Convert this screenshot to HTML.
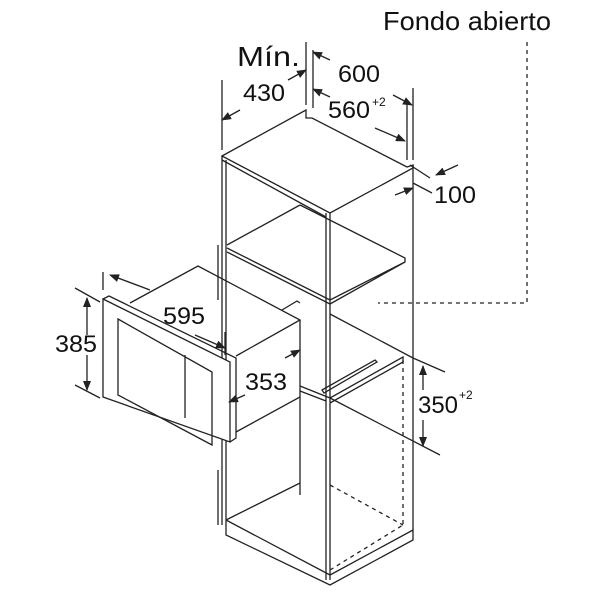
<!DOCTYPE html>
<html><head><style>body{margin:0;background:#fff}svg{display:block}text{font-family:"Liberation Sans",sans-serif;fill:#111}</style></head><body>
<svg width="600" height="600" viewBox="0 0 600 600" fill="none" stroke="#222" stroke-width="1.3">
<defs><marker id="a" markerWidth="10" markerHeight="8" refX="9" refY="4" orient="auto" markerUnits="userSpaceOnUse"><path d="M0,0 L10,4 L0,8z" fill="#222" stroke="none"/></marker></defs>
<!-- Fondo abierto -->
<text x="383" y="30" font-size="26" stroke="none" textLength="168" lengthAdjust="spacingAndGlyphs">Fondo abierto</text>
<path d="M527,42 V303 H378" stroke-dasharray="4,4"/>
<!-- cabinet top -->
<path d="M222,156 L306,110 L306,118 L312,118 L407,167 L413,165 L413,168 L330,213 Z"/>
<path d="M222,160 L326,217"/>
<!-- cabinet verticals -->
<path d="M222,156 V525 M226,160 V525 M326,213 V580 M330,213 V580 M413,165 V530"/>
<!-- upper shelf -->
<path d="M227,245 L300,205 M227,248 L330,300 L405,262 L405,258 L300,205 M227,252 L330,304 M330,304 L405,262"/>
<!-- microwave -->
<path d="M103,299 L230,362 L230,442 L103,397 Z" fill="#fff"/>
<path d="M103,299 L109,296 L236,358 L236,438 L230,442"/>
<path d="M118,319 L212,372 L212,445 L118,395 Z"/>
<path d="M185,355 V418"/>
<path d="M130,303 L198,266 L300,320 L236,356"/>
<path d="M300,320 V397 L236,432"/>
<path d="M282,310 L297,301 L300,303"/>
<!-- middle shelf -->
<path d="M300,386 L330,398 L403,357 L403,362 L330,403 M300,391 L326,401"/>
<path d="M322,390 L375,360 L377,362 L324,393 Z"/>
<path d="M330,314 L413,358"/>
<!-- lower cabinet -->
<path d="M300,397 V495 M226,520 L300,483 M226,520 L330,575 M226,525 V535 L330,585 L413,540 V530 L330,575"/>
<path d="M330,485 L403,525 M330,570 L403,525 M403,360 V525" stroke-dasharray="4,4"/>
<path d="M218,245 V300 M218,470 V525"/>
<!-- dimensions 430 -->
<path d="M222,150 V80 M306,105 V42"/>
<path d="M240,110 L222,120" marker-end="url(#a)"/>
<path d="M288,80 L306,70" marker-end="url(#a)"/>
<text x="237" y="66" font-size="28" stroke="none" textLength="63" lengthAdjust="spacingAndGlyphs">Mín.</text>
<text x="243" y="101" font-size="24" stroke="none" textLength="42" lengthAdjust="spacingAndGlyphs">430</text>
<!-- 600 -->
<path d="M313,50 V108 M407,100 V160 M413,88 V160"/>
<path d="M330,60 L313,52" marker-end="url(#a)"/>
<path d="M393,95 L412,105" marker-end="url(#a)"/>
<text x="338" y="82" font-size="24" stroke="none" textLength="42" lengthAdjust="spacingAndGlyphs">600</text>
<!-- 560 -->
<path d="M330,97 L313,89" marker-end="url(#a)"/>
<path d="M375,128 L405,141" marker-end="url(#a)"/>
<text x="328" y="118" font-size="24" stroke="none" textLength="42" lengthAdjust="spacingAndGlyphs">560</text>
<text x="372" y="106" font-size="12" stroke="none">+2</text>
<!-- 100 -->
<path d="M410,165 L430,178 M413,183 L432,193"/>
<path d="M458,165 L436,175" marker-end="url(#a)"/>
<path d="M395,195 L413,188" marker-end="url(#a)"/>
<text x="434" y="203" font-size="24" stroke="none" textLength="42" lengthAdjust="spacingAndGlyphs">100</text>
<!-- 595 -->
<path d="M103,290 V272 M225,332 V355"/>
<path d="M150,290 L110,275" marker-end="url(#a)"/>
<path d="M195,335 L225,348" marker-end="url(#a)"/>
<text x="163" y="324" font-size="24" stroke="none" textLength="42" lengthAdjust="spacingAndGlyphs">595</text>
<!-- 385 -->
<path d="M75,288 L100,302 M75,385 L100,398"/>
<path d="M87,335 V298" marker-end="url(#a)"/>
<path d="M87,355 V390" marker-end="url(#a)"/>
<text x="55" y="352" font-size="24" stroke="none" textLength="42" lengthAdjust="spacingAndGlyphs">385</text>
<!-- 353 -->
<path d="M285,358 L300,350" marker-end="url(#a)"/>
<path d="M245,395 L229,402" marker-end="url(#a)"/>
<text x="245" y="390" font-size="24" stroke="none" textLength="42" lengthAdjust="spacingAndGlyphs">353</text>
<!-- 350 -->
<path d="M413,358 L445,372 M330,398 L440,455"/>
<path d="M423,390 V366" marker-end="url(#a)"/>
<path d="M423,420 V446" marker-end="url(#a)"/>
<text x="418" y="413" font-size="24" stroke="none" textLength="40" lengthAdjust="spacingAndGlyphs">350</text>
<text x="459" y="399" font-size="12" stroke="none">+2</text>
</svg>
</body></html>
